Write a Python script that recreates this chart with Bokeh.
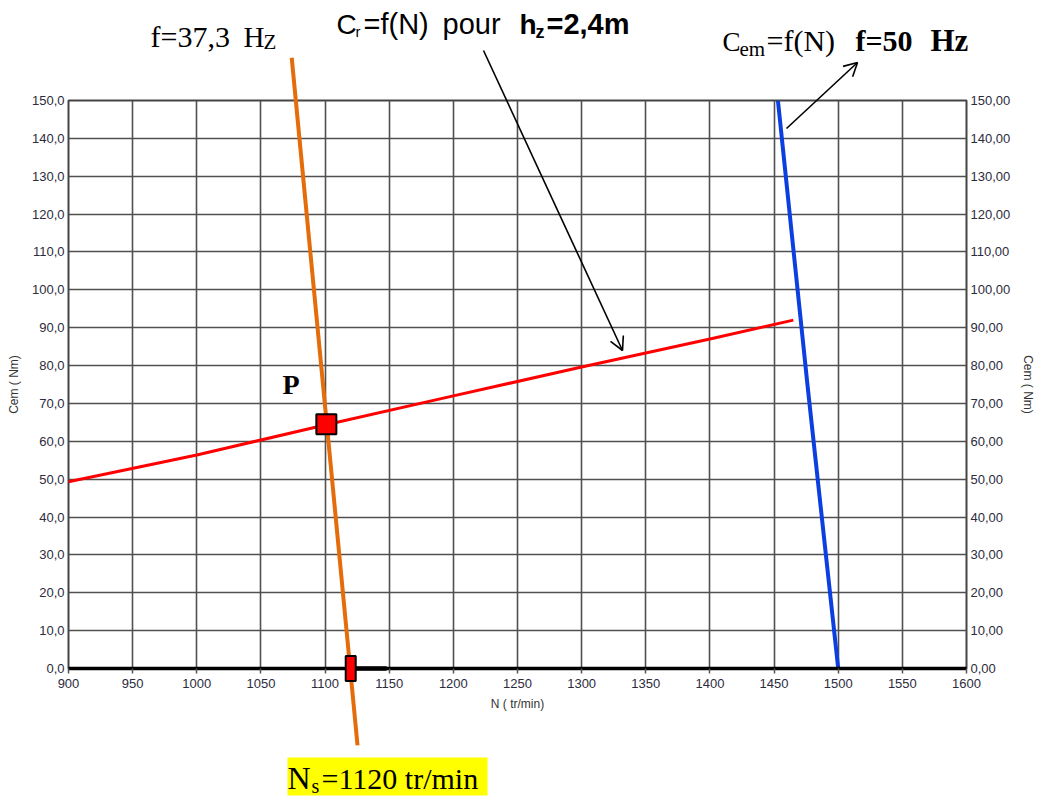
import math
from bokeh.plotting import figure
from bokeh.models import (LinearAxis, SingleIntervalTicker, CustomJSTickFormatter, Range1d)
from bokeh.core.properties import value
from bokeh.embed import file_html
from bokeh.resources import INLINE

# ---------------- data ----------------
n_range = [900, 1600]
c_range = [0, 150]
n_step = 50
c_step = 10

# load torque Cr = f(N) for hz = 2,4 m (red)
red_N = [900, 1000, 1100, 1200, 1300, 1400, 1465]
red_C = [49.3, 56.4, 64.3, 72.0, 79.6, 87.0, 92.0]

# motor torque Cem = f(N) at f = 50 Hz (blue)
blue_N = [1453, 1476, 1500]
blue_C = [150, 75, 0]

# motor torque at f = 37,3 Hz (orange), extends beyond the frame
orange_N = [1074, 1125.3]
orange_C = [161.3, -20.3]

# operating point P and synchronous speed Ns
P_N = [1101]
P_C = [64.5]
Ns_value = 1120

# ---------------- layout constants ----------------
FRAME_W, FRAME_H = 898, 568
FRAME_L, FRAME_T = 68, 100
kx = FRAME_W / (n_range[1] - n_range[0])
ky = FRAME_H / (c_range[1] - c_range[0])

def sx2n(sx):   # screen x (canvas px) -> data N
    return n_range[0] + (sx - FRAME_L) / kx

def sy2c(sy):   # screen y (canvas px) -> data C
    return c_range[1] - (sy - FRAME_T) / ky

# ---------------- figure ----------------
p = figure(frame_width=FRAME_W, frame_height=FRAME_H,
           x_range=Range1d(*n_range), y_range=Range1d(*c_range),
           output_backend="svg", toolbar_location=None,
           min_border_left=FRAME_L, min_border_right=71, min_border_top=FRAME_T, min_border_bottom=128,
           background_fill_color="white", border_fill_color="white")

p.outline_line_color = "#444444"
p.outline_line_width = 2

LBL = "Liberation Sans"
SERIF = "Liberation Serif"
tick_col = "#2c2c3c"

xt = SingleIntervalTicker(interval=n_step, num_minor_ticks=0)
yt = SingleIntervalTicker(interval=c_step, num_minor_ticks=0)
p.xaxis.ticker = xt
p.yaxis.ticker = yt
p.xgrid.ticker = xt
p.ygrid.ticker = yt
for g in (p.xgrid, p.ygrid):
    g.grid_line_color = "#505050"
    g.grid_line_width = 1.6

p.xaxis.axis_label = "N ( tr/min)"
p.xaxis.axis_line_color = "black"
p.xaxis.axis_line_width = 3.5
p.xaxis.major_tick_out = 5
p.xaxis.major_tick_in = 0
p.xaxis.major_tick_line_color = "#555555"
p.xaxis.major_tick_line_width = 1.5
p.xaxis.minor_tick_line_color = None
p.xaxis.major_label_text_font = LBL
p.xaxis.major_label_text_font_size = "13px"
p.xaxis.major_label_text_color = tick_col
p.xaxis.major_label_standoff = 5
p.xaxis.axis_label_text_font = LBL
p.xaxis.axis_label_text_font_size = "12px"
p.xaxis.axis_label_text_font_style = "normal"
p.xaxis.axis_label_text_color = "#333333"
p.xaxis.axis_label_standoff = 6

p.yaxis.axis_label = "Cem ( Nm)"
p.yaxis.formatter = CustomJSTickFormatter(code="return tick.toFixed(1).replace('.', ',')")
p.yaxis.axis_line_color = None
p.yaxis.major_tick_out = 0
p.yaxis.major_tick_in = 0
p.yaxis.minor_tick_line_color = None
p.yaxis.major_label_text_font = LBL
p.yaxis.major_label_text_font_size = "13px"
p.yaxis.major_label_text_color = tick_col
p.yaxis.major_label_standoff = 4
p.yaxis.axis_label_text_font = LBL
p.yaxis.axis_label_text_font_size = "12px"
p.yaxis.axis_label_text_font_style = "normal"
p.yaxis.axis_label_text_color = "#333333"
p.yaxis.axis_label_standoff = 8

ry = LinearAxis(ticker=yt, axis_label="Cem ( Nm)",
                formatter=CustomJSTickFormatter(code="return tick.toFixed(2).replace('.', ',')"))
ry.axis_line_color = None
ry.major_tick_out = 0
ry.major_tick_in = 0
ry.minor_tick_line_color = None
ry.major_label_text_font = LBL
ry.major_label_text_font_size = "13px"
ry.major_label_text_color = tick_col
ry.major_label_standoff = 4
ry.axis_label_text_font = LBL
ry.axis_label_text_font_size = "12px"
ry.axis_label_text_font_style = "normal"
ry.axis_label_text_color = "#333333"
ry.axis_label_standoff = 8
p.add_layout(ry, "right")

OV = "overlay"  # render level painted without frame clipping

# ---------------- curves ----------------
p.line(red_N, red_C, line_color="#ff0000", line_width=3)
p.line(blue_N, blue_C, line_color="#0c3fe0", line_width=4)
p.line(orange_N, orange_C, line_color="#e46c0a", line_width=4, level=OV)

# thick segment on the N axis next to Ns
p.segment(x0=[Ns_value], y0=[0], x1=[Ns_value + 28], y1=[0],
          line_color="black", line_width=4.5, level=OV)

# Ns marker (small red rectangle straddling the axis)
p.rect(x=[Ns_value], y=[0], width=10, height=25, width_units="screen", height_units="screen",
       fill_color="#ff0000", line_color="black", line_width=2, level=OV)

# operating point P
p.scatter(P_N, P_C, marker="square", size=20, fill_color="#ff0000",
          line_color="black", line_width=2, level=OV)

# ---------------- annotations (placed in screen pixels) ----------------
def lab(sx, sy, text, font, size, style="normal"):
    # sy is the wanted baseline; rendered glyph sits ~0.33em lower, compensate
    y = sy2c(sy - 0.33 * size)
    p.text(x=[sx2n(sx)], y=[y], text=[text], text_font=value(font),
           text_font_size=value(f"{size}px"), text_font_style=style, text_color="black",
           text_baseline="alphabetic", text_align="left", level=OV)

# f=37,3 Hz
lab(150, 46, "f=37,3", SERIF, 30)
lab(243, 46, "H", SERIF, 29)
lab(263, 48, "Z", SERIF, 21)

# Cr=f(N) pour hz=2,4m
lab(336, 33, "C", LBL, 28)
lab(355, 36, "r", LBL, 15)
lab(363, 33, "=f(N)", LBL, 29)
lab(442, 33, "pour", LBL, 29)
lab(519, 33, "h", LBL, 28, "bold")
lab(535, 37, "z", LBL, 18, "bold")
lab(546, 33, "=2,4m", LBL, 29, "bold")

# Cem=f(N) f=50 Hz
lab(722, 50, "C", SERIF, 27)
lab(739, 55, "em", SERIF, 21)
lab(766, 50, "=f(N)", SERIF, 30)
lab(855, 50, "f=50", SERIF, 30, "bold")
lab(930, 50, "Hz", SERIF, 31, "bold")

# P
lab(282, 393, "P", SERIF, 28, "bold")

# Ns=1120 tr/min on yellow
p.quad(left=[sx2n(287)], right=[sx2n(487)], top=[sy2c(757)], bottom=[sy2c(795)],
       fill_color="#ffff00", line_color=None, level=OV)
lab(287, 788, "N", SERIF, 32)
lab(311, 792, "s", SERIF, 20)
lab(321, 788, "=1120 tr/min", SERIF, 30)

# arrows with open heads (head geometry computed in screen pixels)
def arrow(sx0, sy0, sx1, sy1, head=15, spread=28):
    x0, y0, x1, y1 = sx2n(sx0), sy2c(sy0), sx2n(sx1), sy2c(sy1)
    xs0, ys0, xs1, ys1 = [x0], [y0], [x1], [y1]
    ang = math.atan2((y1 - y0) * ky, (x1 - x0) * kx)
    for s in (1, -1):
        a = ang + math.pi + s * math.radians(spread)
        xs0.append(x1); ys0.append(y1)
        xs1.append(x1 + head * math.cos(a) / kx)
        ys1.append(y1 + head * math.sin(a) / ky)
    p.segment(x0=xs0, y0=ys0, x1=xs1, y1=ys1, line_color="black", line_width=1.6, level=OV)

arrow(483, 50, 622, 350)
arrow(786, 128, 857, 62)

open("out.html", "w").write(file_html(p, INLINE))
